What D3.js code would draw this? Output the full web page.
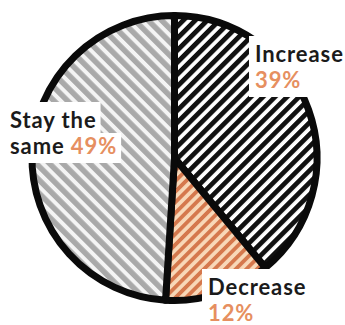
<!DOCTYPE html>
<html>
<head>
<meta charset="utf-8">
<script src="https://cdn.jsdelivr.net/npm/d3@7"></script>
<style>
  html, body { margin: 0; padding: 0; background: #fff; }
  svg { display: block; }
  text { font-family: Lato, "Open Sans", sans-serif; font-weight: 700; }
</style>
</head>
<body>
<svg id="chart" width="345" height="325"></svg>
<script>
// Survey answers, in drawing order clockwise from 12 o'clock
const categories = ["Increase", "Decrease", "Stay the same"];
const values = [39, 12, 49];
// Label text split over two lines; the percentage is appended from values
const labelLines = [["Increase", ""], ["Decrease", ""], ["Stay the", "same "]];

const svg = d3.select("#chart");
const cx = 174.5, cy = 158, R = 142.5;

// Striped fills
const defs = svg.append("defs");
const patterns = [
  { id: "hatch-inc", fg: "#111111", bg: "#ffffff", size: 8.5, fgw: 4.8, angle: 45 },
  { id: "hatch-dec", fg: "#d5784d", bg: "#f8d8b8", size: 7.5, fgw: 3.8, angle: 45 },
  { id: "hatch-same", fg: "#a9a9a9", bg: "#f4f4f4", size: 9.5, fgw: 5.5, angle: -45 }
];
patterns.forEach(p => {
  const pat = defs.append("pattern")
    .attr("id", p.id)
    .attr("patternUnits", "userSpaceOnUse")
    .attr("width", p.size).attr("height", p.size)
    .attr("patternTransform", `rotate(${p.angle})`);
  pat.append("rect").attr("width", p.size).attr("height", p.size).attr("fill", p.bg);
  pat.append("rect").attr("width", p.fgw).attr("height", p.size).attr("fill", p.fg);
});
const fillFor = d3.scaleOrdinal().domain(categories).range(patterns.map(p => `url(#${p.id})`));

const pie = d3.pie().sort(null).value(d => d.value);
const arc = d3.arc().innerRadius(0).outerRadius(R);
const data = categories.map((c, i) => ({ category: c, value: values[i] }));

const g = svg.append("g").attr("transform", `translate(${cx},${cy})`);
g.selectAll("path.slice")
  .data(pie(data))
  .join("path")
  .attr("class", "slice")
  .attr("d", arc)
  .attr("fill", d => fillFor(d.data.category))
  .attr("stroke", "#0a0a0a")
  .attr("stroke-width", 7)
  .attr("stroke-linejoin", "round");

// Labels sit on white boxes that cover the pie edge
const fontSize = 22, lineGap = 26;
const labelPos = [
  { x: 255, y: 62, block: true },
  { x: 208, y: 295, block: true },
  { x: 10, y: 128, block: false }
];
const labels = svg.append("g");
data.forEach((d, i) => {
  const p = labelPos[i];
  const grp = labels.append("g");
  const boxes = grp.append("g");
  const lines = labelLines[i];
  const t1 = grp.append("text").attr("x", p.x).attr("y", p.y)
    .attr("font-size", fontSize).attr("letter-spacing", 0.9).attr("fill", "#1b1b1b");
  t1.append("tspan").text(lines[0]);
  const t2 = grp.append("text").attr("x", p.x).attr("y", p.y + lineGap)
    .attr("font-size", fontSize).attr("letter-spacing", 0.9).attr("fill", "#1b1b1b");
  if (lines[1]) t2.append("tspan").text(lines[1]);
  t2.append("tspan").attr("fill", "#e68f60").text(d.value + "%");
  const b1 = t1.node().getBBox(), b2 = t2.node().getBBox();
  const w1 = b1.width + 10;
  const w2 = p.block ? Math.max(w1, b2.width + 10) : b2.width + 10;
  const top = p.y - 26, mid = p.y + 6, bottom = p.y + lineGap + 9;
  boxes.append("rect").attr("x", b1.x - 6).attr("y", top)
    .attr("width", w1).attr("height", mid - top).attr("fill", "#fff");
  boxes.append("rect").attr("x", b2.x - 6).attr("y", mid - 1)
    .attr("width", w2).attr("height", bottom - mid + 1).attr("fill", "#fff");
});
</script>
</body>
</html>
